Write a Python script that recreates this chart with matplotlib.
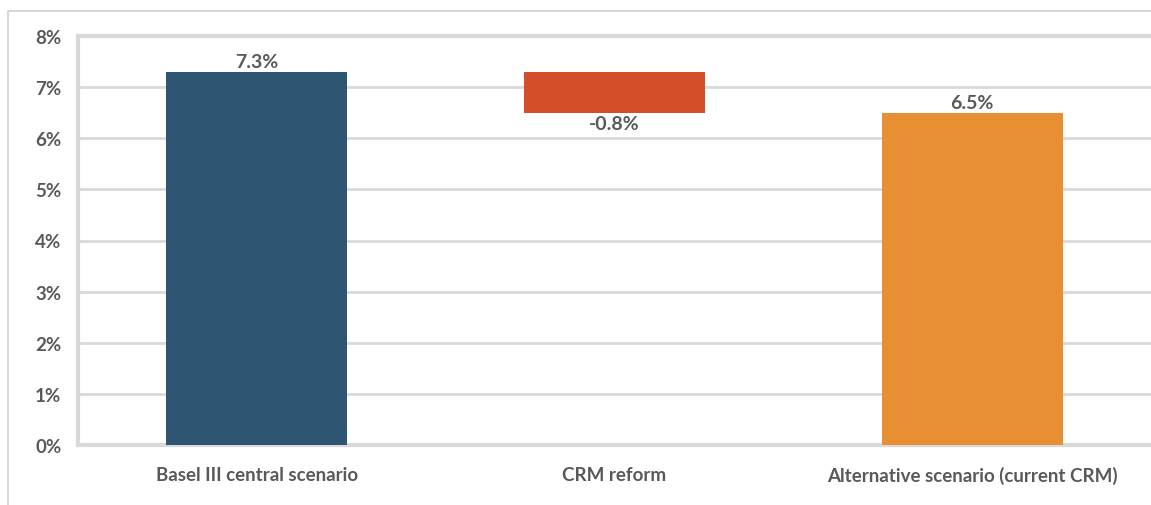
import matplotlib
matplotlib.use("Agg")
import matplotlib.pyplot as plt
from matplotlib.patches import Rectangle

categories = ["Basel III central scenario", "CRM reform", "Alternative scenario (current CRM)"]
values = [7.3, -0.8, 6.5]
kinds = ["total", "delta", "total"]
colors = ["#2E5572", "#D44E2A", "#E88F33"]
yticks = [0, 1, 2, 3, 4, 5, 6, 7, 8]

plt.rcParams['font.family'] = ['Lato', 'DejaVu Sans']
text_col = "#595959"

fig = plt.figure(figsize=(11.51, 5.06), dpi=100)
ax = fig.add_axes([78/1151, 1-446/506, 1-78/1151, (446-37)/506])

# outer border
fig.patches.append(Rectangle((8/1151, -0.01), 1.1, 1-12/506+0.01, transform=fig.transFigure,
                             fill=False, edgecolor="#d0d0d0", linewidth=1.2))

running = 0.0
for i, (v, k, c) in enumerate(zip(values, kinds, colors)):
    if k == "total":
        bottom, height = 0, v
        running = v
        ax.bar(i, height, bottom=bottom, width=0.506, color=c, zorder=3)
        ax.text(i, v + 0.04, f"{v:.1f}%", ha="center", va="bottom", fontsize=14,
                fontweight="bold", color=text_col)
    else:
        bottom = running + v
        ax.bar(i, -v, bottom=bottom, width=0.506, color=c, zorder=3)
        ax.text(i, bottom - 0.04, f"{v:.1f}%", ha="center", va="top", fontsize=14,
                fontweight="bold", color=text_col)
        running = bottom

ax.set_xlim(-0.5, 2.5)
ax.set_ylim(0, 8)
ax.set_yticks(yticks)
ax.set_yticklabels([f"{t}%" for t in yticks])
ax.set_xticks(range(len(categories)))
ax.set_xticklabels(categories)
ax.grid(axis="y", color="#d9d9d9", linewidth=2, zorder=0)
ax.set_axisbelow(True)
for s in ["right"]:
    ax.spines[s].set_visible(False)
for s in ["left", "bottom", "top"]:
    ax.spines[s].set_color("#d9d9d9")
    ax.spines[s].set_linewidth(3)
ax.tick_params(axis="both", length=0, labelsize=13.5, labelcolor=text_col)
ax.tick_params(axis="y", pad=12)
ax.tick_params(axis="x", pad=15)
for lab in ax.get_xticklabels() + ax.get_yticklabels():
    lab.set_fontweight("bold")

fig.savefig("out.png", dpi=100)
